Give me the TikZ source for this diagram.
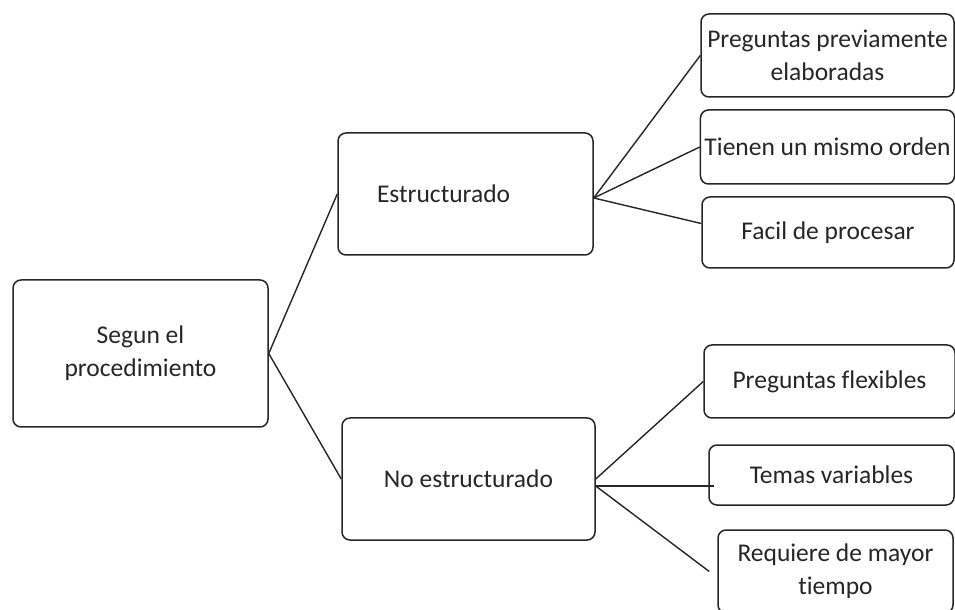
\documentclass[tikz,border=0pt]{standalone}
\usepackage{fontspec}
\setmainfont{Carlito}[Ligatures=NoCommon]

\begin{document}
\begin{tikzpicture}[x=0.5pt,y=-0.5pt,
    caja/.style={draw=black!85,line width=0.75pt,rounded corners=4pt,
        align=center,text=black!85,inner sep=2pt,
        font=\fontsize{12.75}{16.5}\selectfont},
    rama/.style={black!85,line width=0.7pt}]
    \clip (0,0) rectangle (955,610);
    \useasboundingbox (0,0) rectangle (955,610);

    \node[caja,minimum width=127.5pt,minimum height=73.5pt] (segun)
        at (140.5,353.5) {Segun el\\procedimiento};

    \node[caja,minimum width=127.5pt,minimum height=61pt,
        text width=88.5pt,align=left] (estruct) at (465.5,194) {Estructurado};
    \node[caja,minimum width=126.5pt,minimum height=61pt] (noestruct)
        at (468.5,479) {No estructurado};

    \node[caja,minimum width=126.5pt,minimum height=41.5pt] (previas)
        at (827.5,55.5) {Preguntas previamente\\elaboradas};
    \node[caja,minimum width=126.5pt,minimum height=37pt] (orden)
        at (827.5,147) {Tienen un mismo orden};
    \node[caja,minimum width=126pt,minimum height=35.5pt] (facil)
        at (828,232.5) {Facil de procesar};

    \node[caja,minimum width=125.5pt,minimum height=36.5pt] (flexibles)
        at (829.5,381.5) {Preguntas flexibles};
    \node[caja,minimum width=122.5pt,minimum height=30pt] (temas)
        at (831.5,475) {Temas variables};
    \node[caja,minimum width=117.5pt,minimum height=41.5pt] (tiempo)
        at (835.5,571.5) {Requiere de mayor\\tiempo};

    % ramas
    \draw[rama] (segun.east) -- (estruct.west);
    \draw[rama] (segun.east) -- (noestruct.west);

    \draw[rama] ([yshift=-2pt]estruct.east) -- (previas.west);
    \draw[rama] ([yshift=-2pt]estruct.east) -- (orden.west);
    \draw[rama] ([yshift=-2pt]estruct.east) -- ([yshift=4.5pt]facil.west);

    \draw[rama] (noestruct.east) -- (flexibles.west);
    \draw[rama] ([yshift=-3.5pt]noestruct.east)
        -- ([xshift=3pt,yshift=-5.5pt]temas.west);
    \draw[rama] ([yshift=-3.5pt]noestruct.east) -- ([xshift=-4pt]tiempo.west);
\end{tikzpicture}
\end{document}
